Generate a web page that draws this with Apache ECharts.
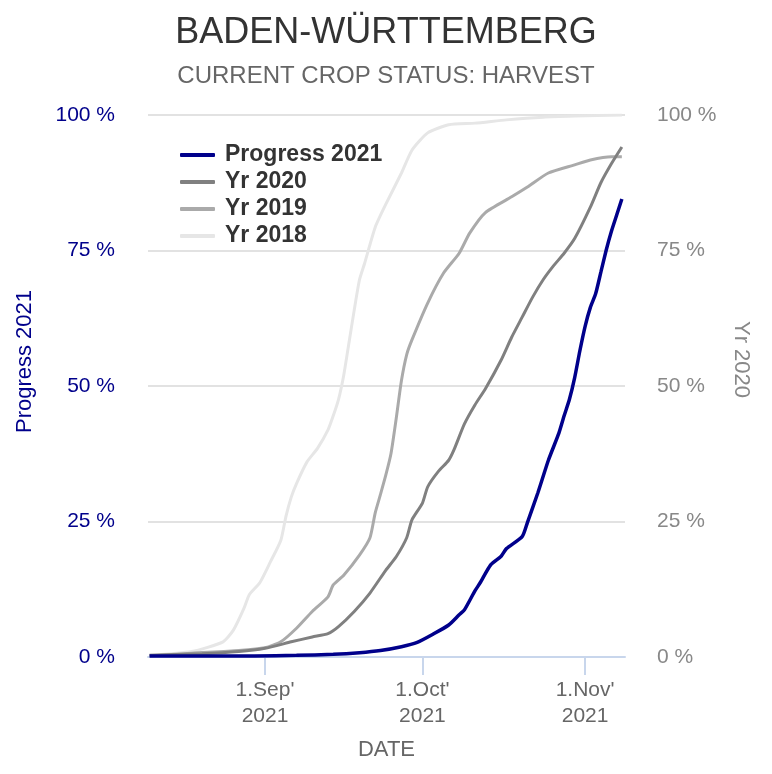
<!DOCTYPE html>
<html>
<head>
<meta charset="utf-8">
<script src="https://cdn.jsdelivr.net/npm/echarts@6/dist/echarts.min.js"></script>
<style>html,body{margin:0;padding:0;background:#fff;overflow:hidden}#c{width:772px;height:774px}</style>
</head>
<body>
<div id="c"></div>
<script>
// ---- data ----
const seriesNames = ['Progress 2021', 'Yr 2020', 'Yr 2019', 'Yr 2018'];
const yTicks = [0, 25, 50, 75, 100];
const monthTicks = ['2021-09-01', '2021-10-01', '2021-11-01'];
const monthLabels = ["1.Sep'", "1.Oct'", "1.Nov'"];

const p2021Dates = ['2021-08-10','2021-08-20','2021-08-30','2021-09-07','2021-09-14','2021-09-19','2021-09-23','2021-09-27','2021-09-30','2021-10-03','2021-10-06','2021-10-08','2021-10-09','2021-10-11','2021-10-12','2021-10-14','2021-10-16','2021-10-17','2021-10-20','2021-10-21','2021-10-23','2021-10-25','2021-10-27','2021-10-28','2021-10-29','2021-10-30','2021-10-31','2021-11-01','2021-11-02','2021-11-03','2021-11-04','2021-11-05','2021-11-06','2021-11-07','2021-11-08'];
const p2021Values = [0.2,0.2,0.2,0.3,0.5,0.8,1.2,1.9,2.7,4.2,5.9,7.8,8.7,12.2,13.7,17,18.6,20,22.2,24.8,30.3,36.3,41.3,44.5,47.5,51.5,56.5,61,64.5,67,71,75,78.5,81.5,84.5];

const y2020Dates = ['2021-08-10','2021-08-20','2021-08-27','2021-09-01','2021-09-06','2021-09-10','2021-09-13','2021-09-15','2021-09-18','2021-09-21','2021-09-24','2021-09-26','2021-09-28','2021-09-29','2021-10-01','2021-10-02','2021-10-04','2021-10-06','2021-10-07','2021-10-09','2021-10-11','2021-10-13','2021-10-16','2021-10-18','2021-10-20','2021-10-22','2021-10-24','2021-10-26','2021-10-28','2021-10-30','2021-11-02','2021-11-04','2021-11-06','2021-11-08'];
const y2020Values = [0.3,0.6,1.0,1.6,2.8,3.7,4.3,5.6,8.4,11.8,16,18.5,22,25.3,28.4,31.4,34.2,36.3,38.2,43,46.5,49.5,54.8,59,62.7,66.4,69.6,72.2,74.5,77.2,83,87.5,91,94.1];

const y2019Dates = ['2021-08-10','2021-08-18','2021-08-27','2021-09-01','2021-09-04','2021-09-07','2021-09-10','2021-09-13','2021-09-14','2021-09-16','2021-09-19','2021-09-21','2021-09-22','2021-09-23','2021-09-24','2021-09-25','2021-09-26','2021-09-27','2021-09-28','2021-09-29','2021-10-02','2021-10-05','2021-10-08','2021-10-10','2021-10-13','2021-10-18','2021-10-21','2021-10-25','2021-10-30','2021-11-02','2021-11-06','2021-11-08'];
const y2019Values = [0.2,0.7,1.2,1.7,2.8,5.3,8.4,11.1,13.3,15.1,18.8,22,26.6,30,33.5,37.5,44,51,55.8,58.5,65.3,70.8,74.5,78.2,82,84.9,86.7,89.3,90.8,91.7,92.3,92.3];

const y2018Dates = ['2021-08-10','2021-08-18','2021-08-24','2021-08-26','2021-08-28','2021-08-29','2021-08-31','2021-09-02','2021-09-04','2021-09-05','2021-09-06','2021-09-07','2021-09-09','2021-09-11','2021-09-13','2021-09-14','2021-09-15','2021-09-16','2021-09-17','2021-09-18','2021-09-19','2021-09-20','2021-09-22','2021-09-24','2021-09-27','2021-09-29','2021-10-02','2021-10-06','2021-10-11','2021-10-17','2021-10-24','2021-10-30','2021-11-08'];
const y2018Values = [0.3,1.0,2.8,5.0,9.0,11.5,13.7,17.5,21.5,26,29.5,32,36,38.5,41.9,44.5,47.5,52,58,64,69.6,72.7,79.3,83.5,89.3,93.5,96.7,98.2,98.5,99.1,99.6,99.8,100];

// ---- chart ----
const FONT = 'Liberation Sans, Arial, sans-serif';
const ts = s => { const [y, m, d] = s.split('-').map(Number); return Date.UTC(y, m - 1, d); };
const zip = (d, v) => d.map((x, i) => [ts(x), v[i]]);
const monthTs = monthTicks.map(ts);
const DAY = 86400000;

const chart = echarts.init(document.getElementById('c'), null, {renderer: 'canvas', width: 772, height: 774});
chart.setOption({
  backgroundColor: '#fff',
  textStyle: {fontFamily: FONT},
  animation: false,
  title: {
    text: 'BADEN-WÜRTTEMBERG',
    subtext: 'CURRENT CROP STATUS: HARVEST',
    left: 'center', top: 10, itemGap: 13,
    textStyle: {fontSize: 36, fontWeight: 'normal', color: '#333', fontFamily: FONT},
    subtextStyle: {fontSize: 24, color: '#666', fontFamily: FONT}
  },
  legend: {
    orient: 'vertical', left: 175, top: 138,
    itemWidth: 35, itemHeight: 4, itemGap: 3,
    icon: 'roundRect',
    data: seriesNames,
    textStyle: {fontSize: 23, fontWeight: 'bold', color: '#333', lineHeight: 24, fontFamily: FONT, padding: [0, 0, 0, 5]}
  },
  grid: {left: 148, right: 147, top: 115, bottom: 117, containLabel: false},
  xAxis: {
    type: 'value',
    min: ts('2021-08-10') - 0.3 * DAY,
    max: ts('2021-11-08') + 0.6 * DAY,
    name: 'DATE', nameLocation: 'middle', nameGap: 82,
    nameTextStyle: {fontSize: 22, color: '#666', fontFamily: FONT},
    axisLine: {show: true, lineStyle: {color: '#c8d6ec', width: 2}},
    axisTick: {show: true, length: 18, customValues: monthTs, lineStyle: {color: '#c8d6ec', width: 2}},
    axisLabel: {
      customValues: monthTs, margin: 20, fontSize: 21, color: '#666', lineHeight: 26, fontFamily: FONT,
      formatter: v => { const i = monthTs.indexOf(v); return (i >= 0 ? monthLabels[i] : '') + '\n' + new Date(v).getUTCFullYear(); }
    },
    splitLine: {show: false}
  },
  yAxis: [
    {
      type: 'value', min: yTicks[0], max: yTicks[yTicks.length - 1], interval: 25, position: 'left',
      name: 'Progress 2021', nameLocation: 'middle', nameGap: 112, nameRotate: 90,
      nameTextStyle: {fontSize: 22, color: '#00008B', fontFamily: FONT, padding: [0, 0, 0, 49]},
      axisLine: {show: false}, axisTick: {show: false},
      axisLabel: {formatter: '{value} %', fontSize: 21, color: '#00008B', margin: 33, fontFamily: FONT},
      splitLine: {show: true, lineStyle: {color: '#e2e2e2', width: 2}}
    },
    {
      type: 'value', min: yTicks[0], max: yTicks[yTicks.length - 1], interval: 25, position: 'right',
      name: 'Yr 2020', nameLocation: 'middle', nameGap: 105, nameRotate: -90,
      nameTextStyle: {fontSize: 22, color: '#888', fontFamily: FONT, padding: [0, 53, 0, 0]},
      axisLine: {show: false}, axisTick: {show: false},
      axisLabel: {formatter: '{value} %', fontSize: 21, color: '#888', margin: 32, fontFamily: FONT},
      splitLine: {show: false}
    }
  ],
  series: [
    {name: 'Yr 2018', type: 'line', yAxisIndex: 1, symbol: 'none', smooth: 0.2, data: zip(y2018Dates, y2018Values), lineStyle: {width: 3, color: '#e6e6e6'}, itemStyle: {color: '#e6e6e6'}},
    {name: 'Yr 2019', type: 'line', yAxisIndex: 1, symbol: 'none', smooth: 0.2, data: zip(y2019Dates, y2019Values), lineStyle: {width: 3, color: '#aaaaaa'}, itemStyle: {color: '#aaaaaa'}},
    {name: 'Yr 2020', type: 'line', yAxisIndex: 1, symbol: 'none', smooth: 0.2, data: zip(y2020Dates, y2020Values), lineStyle: {width: 3, color: '#808080'}, itemStyle: {color: '#808080'}},
    {name: 'Progress 2021', type: 'line', yAxisIndex: 0, symbol: 'none', smooth: 0.2, data: zip(p2021Dates, p2021Values), lineStyle: {width: 3.5, color: '#00008B'}, itemStyle: {color: '#00008B'}}
  ]
});
</script>
</body>
</html>
